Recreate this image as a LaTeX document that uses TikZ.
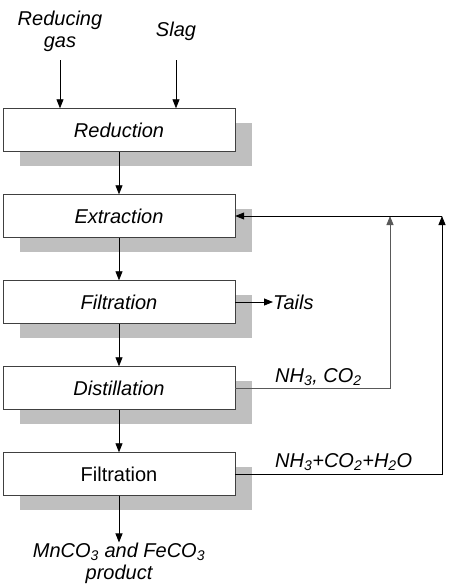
\documentclass[tikz,border=0pt]{standalone}
\usepackage{fontspec}
\setmainfont{Liberation Sans}
\usetikzlibrary{arrows.meta,positioning,shadows}

\begin{document}
\fontsize{20}{22}\selectfont
\begin{tikzpicture}[x=1pt,y=-1pt,
        etapa/.style={draw=black!75, fill=white, minimum width=232pt, minimum height=43pt, font=\itshape,
            drop shadow={shadow xshift=17pt, shadow yshift=-14pt, fill=black!25, opacity=1}},
        seta/.style={-{Triangle[length=9pt,width=7pt]}, line width=0.8pt},
        rotulo/.style={font=\itshape, align=center, inner sep=0pt}
    ]
        \useasboundingbox (0,0) rectangle (458,587);

        \node[etapa] (red) at (119,130) {Reduction};
        \node[etapa] (extr) at (119,216) {Extraction};
        \node[etapa] (filt1) at (119,302) {Filtration};
        \node[etapa] (dist) at (119,388) {Distillation};
        \node[etapa, font=\upshape] (filt2) at (119,474) {Filtration};

        \node[rotulo] (gas) at (60,31) {Reducing\\gas};
        \node[rotulo] (slag) at (176,31) {Slag};
        \node[rotulo, anchor=west] (tails) at (273,302) {Tails};
        \node[rotulo, anchor=west] (nhco) at (275,377) {NH\textsubscript{3}, CO\textsubscript{2}};
        \node[rotulo, anchor=west] (nhcoh) at (275,462) {NH\textsubscript{3}+CO\textsubscript{2}+H\textsubscript{2}O};
        \node[rotulo] (prod) at (119,563) {MnCO\textsubscript{3} and FeCO\textsubscript{3}\\product};

        \coordinate (g0) at (60,60);
        \coordinate (s0) at (176,60);
        \coordinate (r1) at (390,216);
        \coordinate (r2) at (442,216);

        \draw[seta] (g0) -- (g0 |- red.north);
        \draw[seta] (s0) -- (s0 |- red.north);
        \draw[seta] (red) -- (extr);
        \draw[seta] (extr) -- (filt1);
        \draw[seta] (filt1) -- (dist);
        \draw[seta] (dist) -- (filt2);
        \draw[seta] (filt2.south) -- (prod.north);
        \draw[seta] (filt1.east) -- (tails.west);

        % reciclo
        \draw[seta, black!65] (dist.east) -| (r1);
        \draw[seta] (filt2.east) -| (r2);
        \draw[seta] (r2) -- (extr.east);

    \end{tikzpicture}
\end{document}
